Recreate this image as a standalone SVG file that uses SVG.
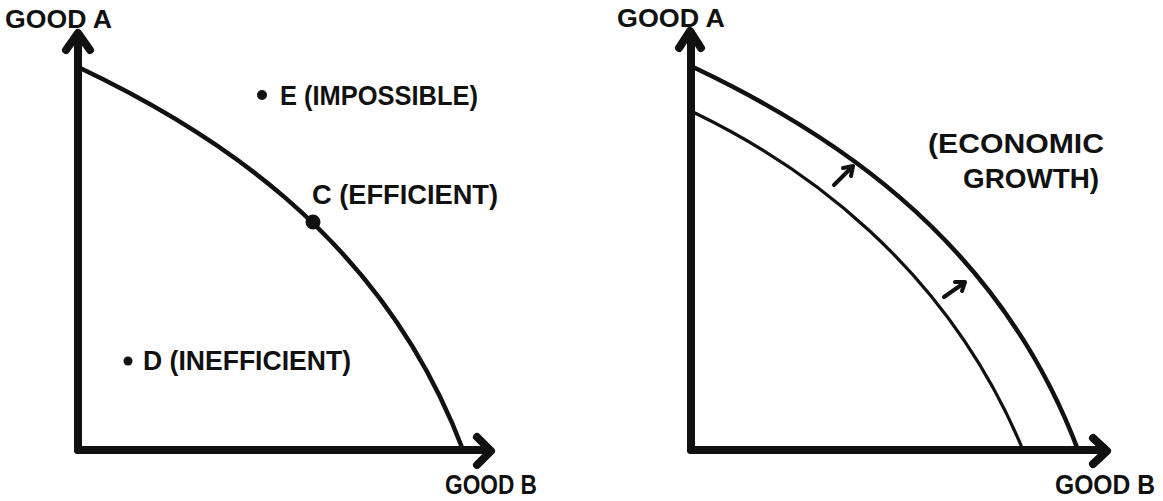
<svg xmlns="http://www.w3.org/2000/svg" width="1163" height="501" viewBox="0 0 1163 501">
<style>
.axis{fill:none;stroke:#111;stroke-width:8;stroke-linecap:round;stroke-linejoin:round}
.curve{fill:none;stroke:#111;stroke-width:4.5;stroke-linecap:round}
.thin{fill:none;stroke:#111;stroke-width:3.2;stroke-linecap:round}
.small{fill:none;stroke:#111;stroke-width:4;stroke-linecap:round;stroke-linejoin:round}
.lbl{font-family:"Liberation Sans",Arial,sans-serif;font-weight:bold;fill:#111}
.dot{fill:#111}
</style>
<rect width="1163" height="501" fill="#fff"/>
<g id="connectors">
  <g id="left-axes">
    <path class="axis" d="M78,450 L78,35"/>
    <path class="axis" d="M66,50 L78,33 L90,50"/>
    <path class="axis" d="M78,450 L489,450"/>
    <path class="axis" d="M477,437 L491,451 L477,465"/>
  </g>
  <path id="ppf-left" class="curve" d="M80,68 C200,125 380,230 463,450"/>
  <g id="right-axes">
    <path class="axis" d="M691,450 L691,33"/>
    <path class="axis" d="M679,48 L690,31 L701,48"/>
    <path class="axis" d="M691,450 L1104,450"/>
    <path class="axis" d="M1093,438 L1107,451 L1093,464"/>
  </g>
  <path id="ppf-outer" class="curve" d="M695,68 C815,125 995,230 1078,450"/>
  <path id="ppf-inner" class="thin" d="M695,113 C798,163 945,262 1023,450"/>
  <g id="shift-arrows">
    <path class="small" d="M834,185 L852,167"/>
    <path class="small" d="M843,168 L853,166 L851,176"/>
    <path class="small" d="M944,297 L964,283"/>
    <path class="small" d="M955,282 L965,282 L962,291"/>
  </g>
</g>
<g id="label-good-a-left"><text class="lbl" x="5" y="28" font-size="25" textLength="107" lengthAdjust="spacingAndGlyphs">GOOD A</text></g>
<g id="label-good-b-left"><text class="lbl" x="445" y="494" font-size="27" textLength="92" lengthAdjust="spacingAndGlyphs">GOOD B</text></g>
<g id="point-e">
  <circle class="dot" cx="262" cy="95" r="5"/>
  <text class="lbl" x="280" y="105" font-size="28" textLength="198" lengthAdjust="spacingAndGlyphs">E (IMPOSSIBLE)</text>
</g>
<g id="point-c">
  <circle class="dot" cx="313" cy="222" r="7.5"/>
  <text class="lbl" x="312" y="204" font-size="27" textLength="186" lengthAdjust="spacingAndGlyphs">C (EFFICIENT)</text>
</g>
<g id="point-d">
  <circle class="dot" cx="128" cy="361" r="4.5"/>
  <text class="lbl" x="143" y="370" font-size="27" textLength="208" lengthAdjust="spacingAndGlyphs">D (INEFFICIENT)</text>
</g>
<g id="label-good-a-right"><text class="lbl" x="617" y="27" font-size="25" textLength="108" lengthAdjust="spacingAndGlyphs">GOOD A</text></g>
<g id="label-good-b-right"><text class="lbl" x="1055" y="494" font-size="27" textLength="100" lengthAdjust="spacingAndGlyphs">GOOD B</text></g>
<g id="label-growth">
  <text class="lbl" x="928" y="153" font-size="28" textLength="176" lengthAdjust="spacingAndGlyphs">(ECONOMIC</text>
  <text class="lbl" x="963" y="188" font-size="28" textLength="136" lengthAdjust="spacingAndGlyphs">GROWTH)</text>
</g>
</svg>
